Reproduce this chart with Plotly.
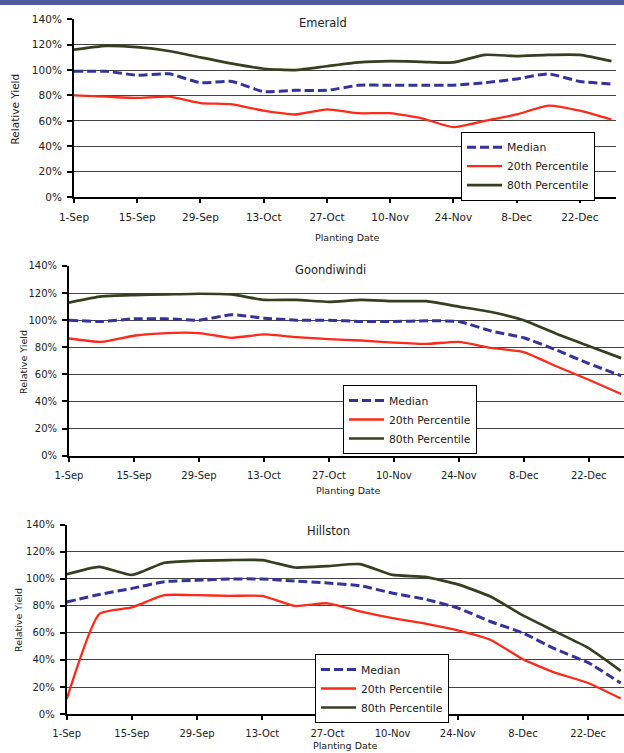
import plotly.graph_objects as go

# ---------------- data ----------------
days = [0, 7, 14, 21, 28, 35, 42, 49, 56, 63, 70, 77, 84, 91, 98, 105, 112, 119]
tick_days = [0, 14, 28, 42, 56, 70, 84, 98, 112]
tick_labels = ["1-Sep", "15-Sep", "29-Sep", "13-Oct", "27-Oct", "10-Nov", "24-Nov", "8-Dec", "22-Dec"]
y_ticks = [0, 20, 40, 60, 80, 100, 120, 140]
y_labels = ["0%", "20%", "40%", "60%", "80%", "100%", "120%", "140%"]

sites = ["Emerald", "Goondiwindi", "Hillston"]
series_names = ["Median", "20th Percentile", "80th Percentile"]

emerald_median = [99, 99, 96, 97, 90, 91, 83, 84, 84, 88, 88, 88, 88, 90, 93, 97, 91, 89]
emerald_p20 = [80, 79, 78, 79, 74, 73, 68, 65, 69, 66, 66, 62, 55, 60, 65, 72, 68, 61]
emerald_p80 = [116, 119, 118, 115, 110, 105, 101, 100, 103, 106, 107, 106.5, 106, 112, 111, 112, 112, 107]

goondiwindi_median = [100, 99, 101, 101, 100, 104, 101.5, 100, 100, 99, 99, 99.5, 99, 92, 87, 78, 68, 59]
goondiwindi_p20 = [86.5, 84, 88.5, 90.5, 90.5, 87, 89.5, 87.5, 86, 85, 83.5, 82.5, 84, 79.5, 76.5, 66, 56, 45.5]
goondiwindi_p80 = [113, 117.5, 118.5, 119, 119.5, 119, 115, 115, 113.5, 115, 114, 114, 110, 106, 100, 90, 81, 72]

hillston_median = [83, 88.5, 93, 98, 99, 100, 100, 98.5, 97, 95, 89.5, 85, 78.5, 68.5, 60, 48, 38, 23]
hillston_p20 = [11, 74, 79, 88, 88, 87.5, 87.5, 80, 82, 76, 71, 67, 62, 55, 40.5, 30.5, 23, 11.5]
hillston_p80 = [103.5, 109, 103, 112, 113.5, 114, 114, 108.5, 109.5, 111, 103, 101.5, 96, 87, 73, 61, 49, 32]

site_data = [
    (emerald_median, emerald_p20, emerald_p80),
    (goondiwindi_median, goondiwindi_p20, goondiwindi_p80),
    (hillston_median, hillston_p20, hillston_p80),
]

# ---------------- styling / layout ----------------
W, H = 624, 753
FONT = "DejaVu Sans"
TXT = "#222222"
colors = ["#333399", "#FF2A1A", "#34401E"]
widths = [3, 2.3, 2.7]
dashes = ["9px,4px", "solid", "solid"]

# plot-area pixel boxes (left, right, top, bottom)
boxes = [(74, 616, 19, 197), (69, 624, 265.7, 455.7), (66.7, 624, 524.7, 714)]
x_ends = [120, 119.6, 119.7]
tick_font = [10.5, 10, 10]
legend_pos = [(461, 131.7), (343, 385), (315, 654)]
title_pos = [(323, 22.7), (330, 270), (328, 531)]
xtitle_pos = [(347, 237.3), (348, 490), (345, 745)]
ytitle_pos = [(15, 109.5), (23, 362), (18, 620)]
ytitle_size = [10.5, 9.5, 9.5]


def px_x(v):
    return v / W


def px_y(v):
    return 1 - v / H


fig = go.Figure()
layout = dict(
    template="none",
    width=W, height=H, autosize=False,
    margin=dict(l=0, r=0, t=0, b=0, pad=0),
    paper_bgcolor="white", plot_bgcolor="white",
    font=dict(family=FONT, color=TXT),
    annotations=[],
    shapes=[dict(type="rect", xref="paper", yref="paper", x0=0, x1=1,
                 y0=px_y(5), y1=1, fillcolor="#4F5B9C", line=dict(width=0), layer="above")],
)

for i, site in enumerate(sites):
    sfx = "" if i == 0 else str(i + 1)
    leg = "legend" + sfx
    l, r, t, b = boxes[i]
    for j, name in enumerate(series_names):
        fig.add_trace(go.Scatter(
            x=days, y=site_data[i][j], name=name, mode="lines",
            line=dict(color=colors[j], width=widths[j], dash=dashes[j], shape="spline", smoothing=0.5),
            xaxis="x" + sfx, yaxis="y" + sfx, legend=leg, showlegend=True,
        ))
    layout["xaxis" + sfx] = dict(
        domain=[px_x(l), px_x(r)], range=[0, x_ends[i]], anchor="y" + sfx, automargin=False,
        tickmode="array", tickvals=tick_days, ticktext=tick_labels,
        ticks="outside", ticklen=4, tickwidth=1.5, tickcolor="black",
        showline=True, linecolor="black", linewidth=2, showgrid=False, zeroline=False,
        tickfont=dict(size=tick_font[i], family=FONT, color=TXT), ticklabelstandoff=5,
    )
    layout["yaxis" + sfx] = dict(
        domain=[px_y(b), px_y(t)], range=[0, 140.2], anchor="x" + sfx, automargin=False,
        tickmode="array", tickvals=y_ticks, ticktext=y_labels,
        ticks="outside", ticklen=5, tickwidth=1.5, tickcolor="black",
        showline=True, linecolor="black", linewidth=2,
        showgrid=True, gridcolor="#444444", gridwidth=1.3, zeroline=False,
        tickfont=dict(size=tick_font[i], family=FONT, color=TXT), ticklabelstandoff=3,
    )
    lx, ly = legend_pos[i]
    layout[leg] = dict(
        x=px_x(lx), y=px_y(ly), xanchor="left", yanchor="top",
        bgcolor="white", bordercolor="black", borderwidth=1,
        font=dict(size=10.8, family=FONT, color=TXT), tracegroupgap=0, itemwidth=35,
    )
    tx, ty = title_pos[i]
    layout["annotations"].append(dict(
        text=site, xref="paper", yref="paper", x=px_x(tx), y=px_y(ty),
        xanchor="center", yanchor="middle", showarrow=False, bgcolor="white", borderpad=3,
        font=dict(size=11.5, family=FONT, color=TXT),
    ))
    ax, ay = xtitle_pos[i]
    layout["annotations"].append(dict(
        text="Planting Date", xref="paper", yref="paper", x=px_x(ax), y=px_y(ay),
        xanchor="center", yanchor="middle", showarrow=False,
        font=dict(size=9.5, family=FONT, color=TXT),
    ))
    yx, yy = ytitle_pos[i]
    layout["annotations"].append(dict(
        text="Relative Yield", xref="paper", yref="paper", x=px_x(yx), y=px_y(yy),
        xanchor="center", yanchor="middle", showarrow=False, textangle=-90,
        font=dict(size=ytitle_size[i], family=FONT, color=TXT),
    ))

fig.update_layout(**layout)
fig.write_html(
    "out.html",
    config={"responsive": False, "displayModeBar": False},
    post_script="document.body.style.margin='0px';document.body.style.overflow='hidden';",
)
